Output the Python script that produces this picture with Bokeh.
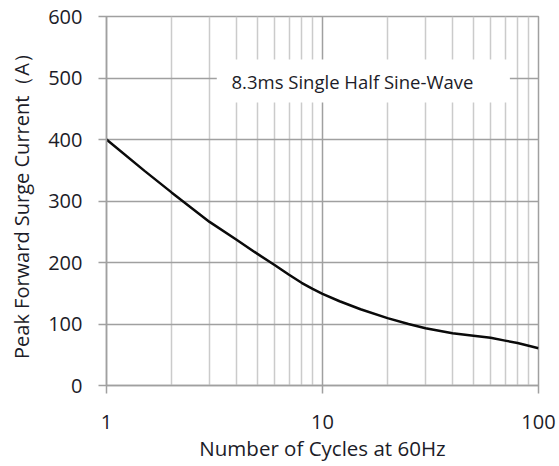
from bokeh.plotting import figure
from bokeh.models import FixedTicker, PrintfTickFormatter, Range1d, BoxAnnotation, Label
from bokeh.embed import file_html
from bokeh.resources import INLINE

# Data
cycles = [1, 1.5, 2, 3, 4, 5, 6, 7, 8, 9, 10, 12, 15, 20, 25, 30, 40, 50, 60, 70, 80, 90, 100]
current = [400, 349, 314, 266, 237, 214, 196, 180, 167, 157, 149, 137, 124, 109.5, 100, 93, 85, 81, 77.5, 73, 69, 64.5, 60.5]

x_major = [1, 10, 100]
x_minor = [2, 3, 4, 5, 6, 7, 8, 9, 20, 30, 40, 50, 60, 70, 80, 90]
y_ticks = [0, 100, 200, 300, 400, 500, 600]

note_text = "8.3ms Single Half Sine-Wave"
x_label = "Number of Cycles at 60Hz"
y_label = "Peak Forward Surge Current（A）"

FONT = "Open Sans"
MAJOR = "#a0a0a0"
MINOR = "#cbcbcb"
TXT = "#1c1c28"

p = figure(width=558, height=464, x_axis_type="log",
           x_range=Range1d(1, 100), y_range=Range1d(0, 600),
           output_backend="svg", toolbar_location=None,
           min_border_left=106, min_border_right=20, min_border_top=16, min_border_bottom=79)

p.background_fill_color = "white"
p.border_fill_color = "white"
p.outline_line_color = MAJOR
p.outline_line_width = 1.5

# grids
p.xgrid.ticker = FixedTicker(ticks=x_major, minor_ticks=x_minor)
p.xgrid.grid_line_color = MAJOR
p.xgrid.grid_line_width = 1.5
p.xgrid.minor_grid_line_color = MINOR
p.xgrid.minor_grid_line_width = 1.5
p.ygrid.ticker = FixedTicker(ticks=y_ticks)
p.ygrid.grid_line_color = MAJOR
p.ygrid.grid_line_width = 1.5

# axes
xa = p.xaxis[0]
xa.ticker = FixedTicker(ticks=x_major, minor_ticks=x_minor)
xa.formatter = PrintfTickFormatter(format="%d")
ya = p.yaxis[0]
ya.ticker = FixedTicker(ticks=y_ticks)
for ax in (xa, ya):
    ax.axis_line_color = MAJOR
    ax.axis_line_width = 1.5
    ax.major_tick_line_color = MAJOR
    ax.major_tick_line_width = 1.5
    ax.major_tick_in = 0
    ax.major_tick_out = 8
    ax.minor_tick_line_color = None
    ax.major_label_text_font = FONT
    ax.major_label_text_font_size = "20px"
    ax.major_label_text_color = TXT
    ax.axis_label_text_font = FONT
    ax.axis_label_text_font_style = "normal"
    ax.axis_label_text_color = TXT

xa.axis_label_text_font_size = "20.5px"
ya.axis_label_text_font_size = "20px"
xa.major_label_standoff = 21
xa.axis_label = x_label
xa.axis_label_standoff = 2
ya.major_label_standoff = 16
ya.axis_label = y_label
ya.axis_label_standoff = 10

# curve
p.line(cycles, current, line_color="#0a0a0a", line_width=2.5)

# annotation box and text
p.add_layout(BoxAnnotation(left=3.24, right=73.7, bottom=460, top=530,
                           fill_color="white", fill_alpha=1.0, line_color=None))
p.add_layout(Label(x=3.79, y=495, text=note_text, text_font=FONT,
                   text_font_size="18.5px", text_color=TXT, text_baseline="middle",
                   text_align="left"))

open("out.html", "w").write(file_html(p, INLINE))
